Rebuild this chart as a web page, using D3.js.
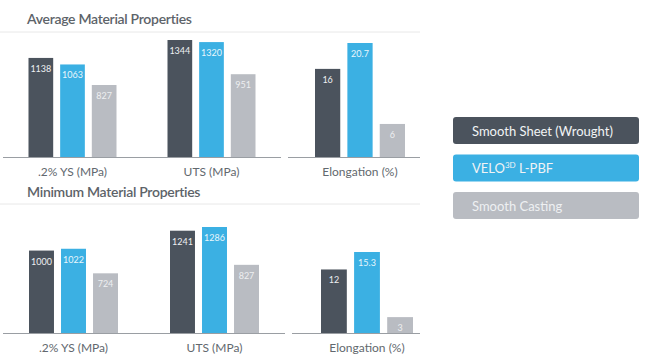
<!DOCTYPE html>
<html>
<head>
<meta charset="utf-8">
<script src="https://cdn.jsdelivr.net/npm/d3@7"></script>
<style>
	body { margin: 0; background: #fff; }
	svg { display: block; font-family: Lato, "Open Sans", sans-serif; }
</style>
</head>
<body>
<svg id="chart" width="650" height="361"></svg>
<script>
const categories = [".2% YS (MPa)", "UTS (MPa)", "Elongation (%)"];
const series = ["Smooth Sheet (Wrought)", "VELO3D L-PBF", "Smooth Casting"];

const avg_wrought = [1138, 1344, 16];
const avg_velo = [1063, 1320, 20.7];
const avg_casting = [827, 951, 6];

const min_wrought = [1000, 1241, 12];
const min_velo = [1022, 1286, 15.3];
const min_casting = [724, 827, 3];

const color_dict = {
	wrought: "#4b535d",
	velo: "#3bb0e3",
	casting: "#b9bcc2",
};
const colors = [color_dict.wrought, color_dict.velo, color_dict.casting];
const label_colors = ["#eef0f2", "#e8f6fc", "#eeeff1"];

const svg = d3.select("#chart");

// one block = title + divider + two sub-panels (MPa and %)
function draw_block(cfg) {
	const g = svg.append("g");

	g.append("text")
		.attr("x", 27)
		.attr("y", cfg.title_y)
		.attr("font-size", 14)
		.attr("font-weight", 600)
		.attr("letter-spacing", -0.3)
		.attr("fill", "#5d6369")
		.text(cfg.title);

	g.append("line")
		.attr("x1", 0).attr("x2", 420)
		.attr("y1", cfg.divider_y).attr("y2", cfg.divider_y)
		.attr("stroke", "#e8e8e8")
		.attr("stroke-width", 1);

	const values = [cfg.wrought, cfg.velo, cfg.casting];

	cfg.panels.forEach((p) => {
		const cats = p.idx.map((i) => categories[i]);
		const x0 = d3.scaleBand().domain(cats).range(p.range);
		const x1 = d3
			.scaleBand()
			.domain(series)
			.range([-p.group_w / 2, p.group_w / 2])
			.paddingInner(0.22);
		const y = d3.scaleLinear().domain(p.domain).range([cfg.base_y, cfg.base_y - p.px]);

		const rows = [];
		p.idx.forEach((ci) => {
			series.forEach((s, si) => {
				rows.push({ cat: categories[ci], s: s, si: si, v: values[si][ci] });
			});
		});

		const cx = (d) => x0(d.cat) + x0.bandwidth() / 2 + x1(d.s);

		g.append("g")
			.selectAll("rect")
			.data(rows)
			.join("rect")
			.attr("x", cx)
			.attr("y", (d) => y(d.v))
			.attr("width", x1.bandwidth())
			.attr("height", (d) => cfg.base_y - y(d.v))
			.attr("fill", (d) => colors[d.si]);

		g.append("g")
			.attr("font-size", 9)
			.attr("text-anchor", "middle")
			.selectAll("text")
			.data(rows)
			.join("text")
			.attr("x", (d) => cx(d) + x1.bandwidth() / 2)
			.attr("y", (d) => y(d.v) + 14)
			.attr("fill", (d) => label_colors[d.si])
			.text((d) => d.v);

		g.append("line")
			.attr("x1", p.line[0]).attr("x2", p.line[1])
			.attr("y1", cfg.base_y + 0.5).attr("y2", cfg.base_y + 0.5)
			.attr("stroke", "#9a9ea3")
			.attr("stroke-width", 1);

		const axis = g
			.append("g")
			.attr("transform", `translate(0,${cfg.base_y})`)
			.call(d3.axisBottom(x0).tickSize(0).tickPadding(10));
		axis.select(".domain").remove();
		axis
			.selectAll("text")
			.attr("font-family", "Lato, sans-serif")
			.attr("font-size", 12)
			.attr("fill", "#62686e");
	});
}

draw_block({
	title: "Average Material Properties",
	title_y: 24,
	divider_y: 32,
	base_y: 157,
	wrought: avg_wrought,
	velo: avg_velo,
	casting: avg_casting,
	panels: [
		{ idx: [0, 1], range: [3, 281], group_w: 88, domain: [0, 1344], px: 117, line: [3, 281] },
		{ idx: [2], range: [288, 432], group_w: 90, domain: [0, 20.7], px: 114, line: [288, 420] },
	],
});

draw_block({
	title: "Minimum Material Properties",
	title_y: 197,
	divider_y: 204,
	base_y: 333,
	wrought: min_wrought,
	velo: min_velo,
	casting: min_casting,
	panels: [
		{ idx: [0, 1], range: [3, 285], group_w: 89, domain: [0, 1286], px: 106, line: [3, 285] },
		{ idx: [2], range: [296, 438], group_w: 92, domain: [0, 15.3], px: 81, line: [292, 420] },
	],
});

// legend
const legend_y = d3.scaleBand().domain(series).range([117, 219]).paddingInner(0.28);
const legend = svg
	.append("g")
	.selectAll("g")
	.data(series)
	.join("g")
	.attr("transform", (d) => `translate(453,${legend_y(d)})`);

legend
	.append("rect")
	.attr("width", 186)
	.attr("height", legend_y.bandwidth())
	.attr("rx", 3)
	.attr("fill", (d, i) => colors[i]);

const legend_text = legend
	.append("text")
	.attr("x", 19)
	.attr("y", legend_y.bandwidth() / 2 + 5)
	.attr("font-size", 13)
	.attr("fill", (d, i) => (i === 2 ? "#eef0f2" : "#f1f3f5"));

legend_text.each(function (d) {
	const t = d3.select(this);
	if (d === "VELO3D L-PBF") {
		t.append("tspan").text("VELO");
		t.append("tspan").attr("font-size", 8).attr("dy", -5).text("3D");
		t.append("tspan").attr("dy", 5).text(" L-PBF");
	} else {
		t.text(d);
	}
});
</script>
</body>
</html>
